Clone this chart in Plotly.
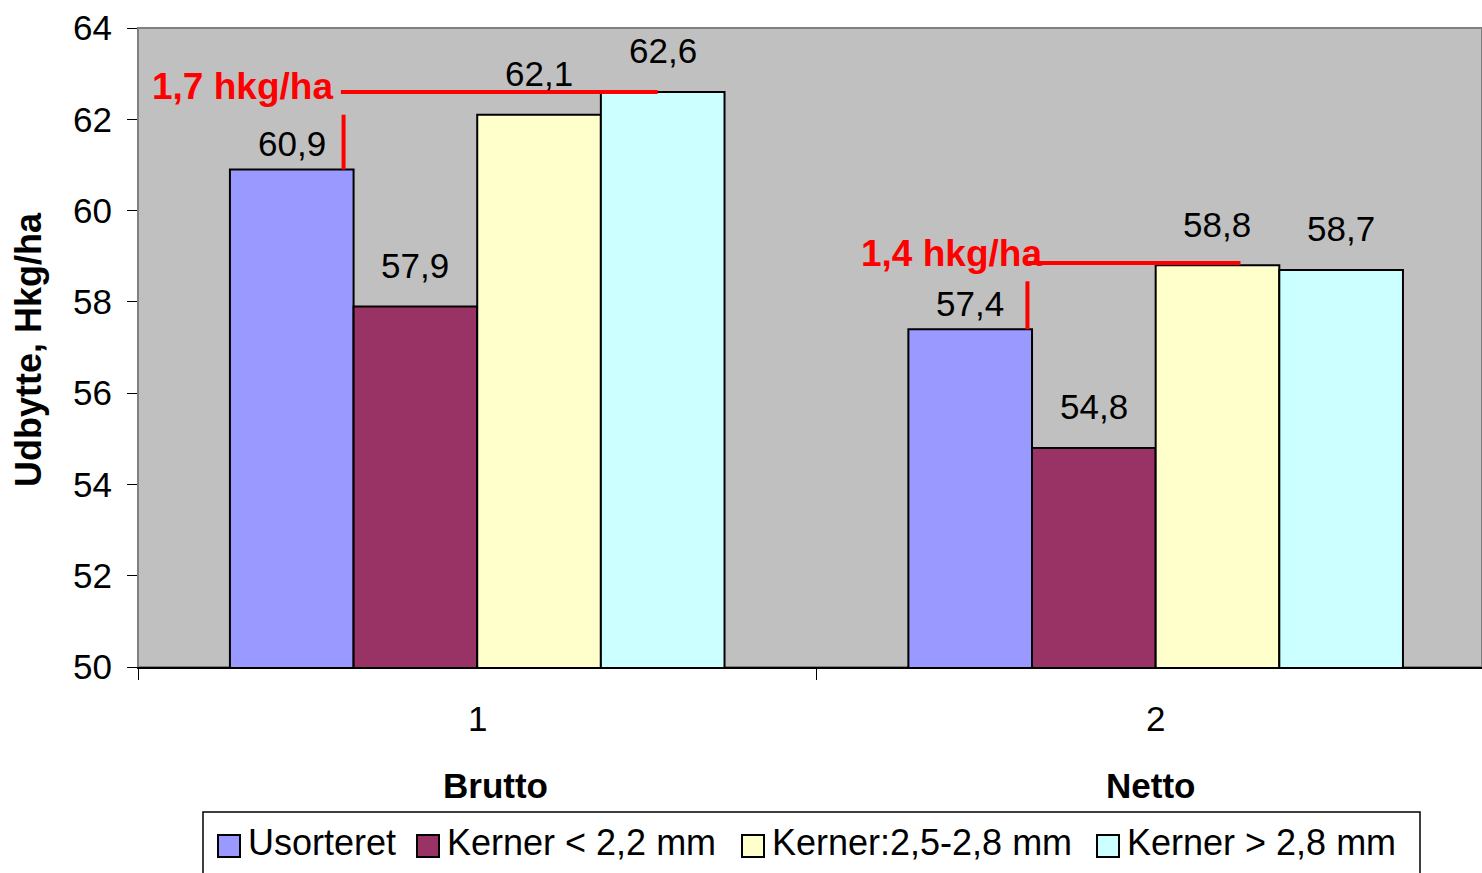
import plotly.graph_objects as go

# Yield per sorting fraction, gross and net
groups = [0, 1]
group_ticks = ["1", "2"]
group_names = ["Brutto", "Netto"]
series_names = ["Usorteret", "Kerner < 2,2 mm", "Kerner:2,5-2,8 mm", "Kerner > 2,8 mm"]
usorteret = [60.9, 57.4]
kerner_small = [57.9, 54.8]
kerner_mid = [62.1, 58.8]
kerner_large = [62.6, 58.7]
series_values = [usorteret, kerner_small, kerner_mid, kerner_large]
colors = ["#9999FF", "#993366", "#FFFFCC", "#CCFFFF"]
# vertical offset (px) of each series' value label above its bar
label_lift = [26, 41, 41, 41]

# Difference markers: label, label position, line geometry in data units
diff_labels = ["1,7 hkg/ha", "1,4 hkg/ha"]
diff_label_y = [62.72, 59.05]
diff_label_x = [-0.21, 0.835]
diff_vert_x = [-0.197, 0.811]
diff_vert_y0 = [60.9, 57.4]
diff_vert_y1 = [62.1, 58.45]
diff_horiz_y = [62.6, 58.85]
diff_horiz_x1 = [0.266, 1.125]

W, H = 1482, 873
ML, MT, MB, MR = 138, 28, 206, 0
PW, PH = W - ML - MR, H - MT - MB

FONT = "Arial, Liberation Sans, sans-serif"
FS = 35
FS_LEG = 36
FS_RED = 37
BARGAP = 0.271
N = len(series_names)
BAR_W = (1 - BARGAP) / N


def px_x(p):
    return (p - ML) / PW


def px_y(p):
    return (H - MB - p) / PH


fig = go.Figure()
annotations = []
for i, (name, vals, col) in enumerate(zip(series_names, series_values, colors)):
    fig.add_trace(go.Bar(
        x=groups, y=vals, name=name,
        marker=dict(color=col, line=dict(color="black", width=2)),
        showlegend=False,
    ))
    # value labels above each bar
    for g, v in zip(groups, vals):
        annotations.append(dict(
            x=g + (i - (N - 1) / 2) * BAR_W, y=v, yshift=label_lift[i],
            text=f"{v:.1f}".replace(".", ","), showarrow=False,
            xanchor="center", yanchor="middle",
            font=dict(family=FONT, size=FS, color="black")))

shapes = []

# plot frame (top edge in grey)
shapes.append(dict(type="rect", xref="paper", yref="paper", x0=0, x1=1, y0=0, y1=1,
                   line=dict(color="#808080", width=2), layer="below"))

for i in range(len(diff_labels)):
    shapes.append(dict(type="line", x0=diff_vert_x[i], x1=diff_vert_x[i],
                       y0=diff_vert_y0[i], y1=diff_vert_y1[i],
                       line=dict(color="#FF0000", width=4)))
    shapes.append(dict(type="line", x0=diff_vert_x[i] - 0.004, x1=diff_horiz_x1[i],
                       y0=diff_horiz_y[i], y1=diff_horiz_y[i],
                       line=dict(color="#FF0000", width=4)))
    annotations.append(dict(x=diff_label_x[i], y=diff_label_y[i], text="<b>%s</b>" % diff_labels[i],
                            showarrow=False, xanchor="right", yanchor="middle",
                            font=dict(family=FONT, size=FS_RED, color="#FF0000")))

# category labels below the axis
name_x_px = [495, 1150]
for g, t, n, nx in zip(groups, group_ticks, group_names, name_x_px):
    annotations.append(dict(x=g, y=px_y(718), yref="paper", text=t, showarrow=False,
                            xanchor="center", yanchor="middle",
                            font=dict(family=FONT, size=FS, color="black")))
    annotations.append(dict(x=px_x(nx), xref="paper", y=px_y(785), yref="paper",
                            text="<b>%s</b>" % n, showarrow=False,
                            xanchor="center", yanchor="middle",
                            font=dict(family=FONT, size=FS, color="black")))

# y-axis title
annotations.append(dict(x=px_x(29), xref="paper", y=px_y(350), yref="paper",
                        text="<b>Udbytte, Hkg/ha</b>", textangle=-90, showarrow=False,
                        xanchor="center", yanchor="middle",
                        font=dict(family=FONT, size=36, color="black")))

# legend box
shapes.append(dict(type="rect", xref="paper", yref="paper",
                   x0=px_x(203), x1=px_x(1420), y0=px_y(890), y1=px_y(812),
                   line=dict(color="black", width=1.5), fillcolor="white"))
sq_x = [218, 417, 742, 1097]
for name, col, sx in zip(series_names, colors, sq_x):
    shapes.append(dict(type="rect", xref="paper", yref="paper",
                       x0=px_x(sx), x1=px_x(sx + 22), y0=px_y(857), y1=px_y(835),
                       line=dict(color="black", width=2), fillcolor=col))
    annotations.append(dict(x=px_x(sx + 28), xref="paper", y=px_y(842), yref="paper",
                            text=name, showarrow=False, xanchor="left", yanchor="middle",
                            font=dict(family=FONT, size=FS_LEG, color="black")))

fig.update_layout(
    width=W, height=H,
    margin=dict(l=ML, r=MR, t=MT, b=MB, pad=0),
    paper_bgcolor="white", plot_bgcolor="#C0C0C0",
    barmode="group", bargap=BARGAP, bargroupgap=0,
    separators=",.",
    showlegend=False,
    font=dict(family=FONT, size=FS, color="black"),
    shapes=shapes, annotations=annotations,
    xaxis=dict(range=[-0.5, 1.481], tickmode="array", tickvals=[-0.5, 0.5, 1.5],
               ticktext=["", "", ""], ticks="outside", ticklen=11, tickcolor="black",
               tickwidth=1, showline=True, linecolor="black", linewidth=2,
               showgrid=False, zeroline=False, fixedrange=True),
    yaxis=dict(range=[50, 64], tickmode="array", tickvals=list(range(50, 65, 2)),
               ticks="outside", ticklen=10, tickcolor="black", tickwidth=1,
               showline=True, linecolor="#808080", linewidth=1,
               showgrid=False, zeroline=False, ticklabelstandoff=8,
               tickfont=dict(family=FONT, size=FS, color="black"), fixedrange=True),
)

fig.write_html("out.html", config={"displayModeBar": False})
